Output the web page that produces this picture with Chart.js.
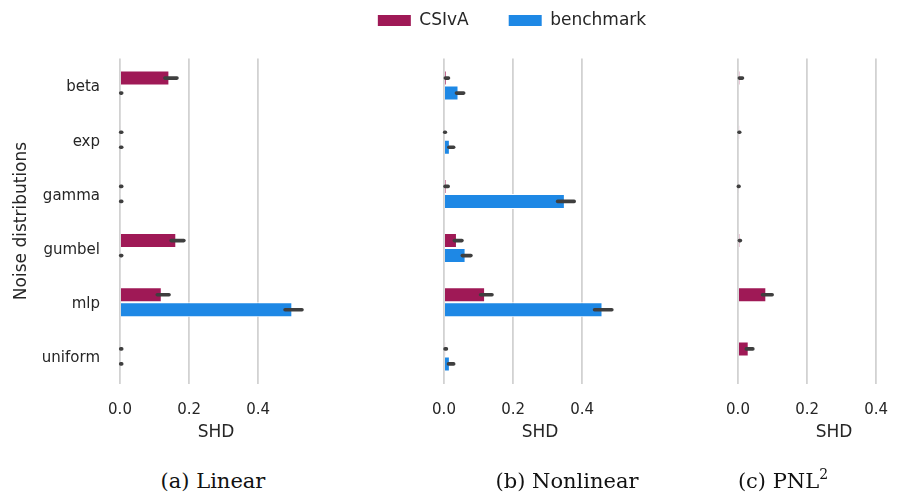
<!DOCTYPE html>
<html>
<head>
<meta charset="utf-8">
<script src="https://cdn.jsdelivr.net/npm/chart.js@4/dist/chart.umd.min.js"></script>
<style>
  html, body { margin: 0; padding: 0; background: #fff; width: 915px; height: 493px; overflow: hidden; position: relative; }
  canvas { position: absolute; }
  .caption { position: absolute; top: 471px; font-family: "DejaVu Serif", serif; font-size: 21px; line-height: 21px; color: #111; transform: translateX(-50%); white-space: nowrap; }
  .caption sup { font-size: 14px; line-height: 0; vertical-align: 9px; }
</style>
</head>
<body>
<canvas id="linearChart" width="320" height="460" style="left:0;top:0"></canvas>
<canvas id="nonlinearChart" width="400" height="488" style="left:312px;top:-28px"></canvas>
<canvas id="pnlChart" width="240" height="460" style="left:700px;top:0"></canvas>
<div class="caption" style="left:213px">(a) Linear</div>
<div class="caption" style="left:567px">(b) Nonlinear</div>
<div class="caption" style="left:783px">(c) PNL<sup>2</sup></div>

<script>
const categories = ["beta", "exp", "gamma", "gumbel", "mlp", "uniform"];
const seriesNames = ["CSIvA", "benchmark"];
const tickValues = [0, 0.2, 0.4];
const xMax = 0.556;

// (a) Linear
const linearCSIvA = [0.143, 0.003, 0.003, 0.163, 0.121, 0.003];
const linearCSIvALow = [0.130, 0.002, 0.002, 0.148, 0.108, 0.002];
const linearCSIvAHigh = [0.165, 0.005, 0.005, 0.185, 0.142, 0.005];
const linearBench = [0.003, 0.003, 0.003, 0.003, 0.499, 0.003];
const linearBenchLow = [0.002, 0.002, 0.002, 0.002, 0.478, 0.002];
const linearBenchHigh = [0.005, 0.005, 0.005, 0.005, 0.527, 0.005];

// (b) Nonlinear
const nonlinearCSIvA = [0.007, 0.003, 0.006, 0.0375, 0.119, 0.004];
const nonlinearCSIvALow = [0.004, 0.002, 0.003, 0.030, 0.106, 0.003];
const nonlinearCSIvAHigh = [0.013, 0.004, 0.012, 0.052, 0.139, 0.007];
const nonlinearBench = [0.042, 0.017, 0.350, 0.0625, 0.459, 0.017];
const nonlinearBenchLow = [0.036, 0.014, 0.329, 0.053, 0.436, 0.013];
const nonlinearBenchHigh = [0.057, 0.028, 0.377, 0.078, 0.486, 0.028];

// (c) PNL^2 (no benchmark)
const pnlCSIvA = [0.005, 0.004, 0.002, 0.005, 0.082, 0.031];
const pnlCSIvALow = [0.004, 0.003, 0.001, 0.004, 0.071, 0.024];
const pnlCSIvAHigh = [0.013, 0.005, 0.003, 0.007, 0.099, 0.043];
const pnlBench = [null, null, null, null, null, null];

Chart.defaults.font.family = "'DejaVu Sans', sans-serif";
Chart.defaults.color = "#262626";

// draws the mean +- interval lines on top of the bars
const errorBarPlugin = {
  id: "errorBars",
  afterDatasetsDraw(chart) {
    const ctx = chart.ctx;
    const xScale = chart.scales.x;
    ctx.save();
    ctx.strokeStyle = "#3f3f3f";
    ctx.lineWidth = 3.6;
    ctx.lineCap = "round";
    chart.data.datasets.forEach((ds, i) => {
      if (!ds.errorLow) return;
      chart.getDatasetMeta(i).data.forEach((bar, j) => {
        if (ds.data[j] == null) return;
        ctx.beginPath();
        ctx.moveTo(xScale.getPixelForValue(ds.errorLow[j]), bar.y);
        ctx.lineTo(xScale.getPixelForValue(ds.errorHigh[j]), bar.y);
        ctx.stroke();
      });
    });
    ctx.restore();
  },
};

function renderPanel(canvasId, series, cfg) {
  const colors = ["#9f1956", "#1e88e5"];
  const datasets = series.map((s, i) => ({
    label: seriesNames[i],
    data: s.values,
    errorLow: s.low,
    errorHigh: s.high,
    backgroundColor: colors[i],
    borderColor: "#ffffff",
    borderWidth: 1,
    categoryPercentage: 0.554,
    barPercentage: 1.0,
  }));

  const scales = {
    x: {
      type: "linear",
      min: 0,
      max: xMax,
      afterBuildTicks: (s) => { s.ticks = tickValues.map((v) => ({ value: v })); },
      afterFit: (s) => { s.height = 76.5; },
      grid: { color: "#d2d2d2", lineWidth: 1.8, drawTicks: false },
      border: { display: false },
      ticks: { padding: 17.5, font: { size: 15 }, callback: (v) => Number(v).toFixed(1) },
      title: { display: true, text: "SHD", font: { size: 17 }, padding: { top: 0, bottom: 16.8 } },
    },
    y: {
      grid: { display: false, drawTicks: false },
      border: { display: false },
      ticks: { display: cfg.showLabels, padding: 20, labelOffset: 2, font: { size: 15 } },
      title: {
        display: cfg.showLabels,
        text: "Noise distributions",
        font: { size: 17 },
        padding: { top: 11, bottom: 0 },
      },
      afterFit: (s) => { s.width = cfg.yWidth; },
    },
  };

  // spacer axes so the legend panel lines up with the other two
  if (cfg.legend) {
    scales.topSpacer = {
      type: "linear", position: "top", display: true,
      ticks: { display: false }, grid: { display: false }, border: { display: false },
      afterFit: (s) => { s.height = 19.5; },
    };
    scales.rightSpacer = {
      type: "linear", position: "right", display: true,
      ticks: { display: false }, grid: { display: false }, border: { display: false },
      afterFit: (s) => { s.width = cfg.rightWidth; },
    };
  }

  new Chart(document.getElementById(canvasId), {
    type: "bar",
    data: { labels: categories, datasets: datasets },
    options: {
      indexAxis: "y",
      responsive: false,
      animation: false,
      layout: { padding: cfg.padding },
      scales: scales,
      plugins: {
        tooltip: { enabled: false },
        legend: {
          display: !!cfg.legend,
          position: "top",
          labels: {
            boxWidth: 33,
            boxHeight: 11,
            padding: 40,
            font: { size: 17 },
            generateLabels: (chart) =>
              Chart.defaults.plugins.legend.labels.generateLabels(chart).map((l) => ({ ...l, lineWidth: 0 })),
          },
        },
      },
    },
    plugins: [errorBarPlugin],
  });
}

renderPanel("linearChart", [
  { values: linearCSIvA, low: linearCSIvALow, high: linearCSIvAHigh },
  { values: linearBench, low: linearBenchLow, high: linearBenchHigh },
], { showLabels: true, yWidth: 120, padding: { top: 58.5, right: 8, left: 0, bottom: 0 } });

renderPanel("nonlinearChart", [
  { values: nonlinearCSIvA, low: nonlinearCSIvALow, high: nonlinearCSIvAHigh },
  { values: nonlinearBench, low: nonlinearBenchLow, high: nonlinearBenchHigh },
], { showLabels: false, yWidth: 132, rightWidth: 76, legend: true, padding: 0 });

renderPanel("pnlChart", [
  { values: pnlCSIvA, low: pnlCSIvALow, high: pnlCSIvAHigh },
  { values: pnlBench, low: pnlBench, high: pnlBench },
], { showLabels: false, yWidth: 38, padding: { top: 58.5, right: 10, left: 0, bottom: 0 } });
</script>
</body>
</html>
